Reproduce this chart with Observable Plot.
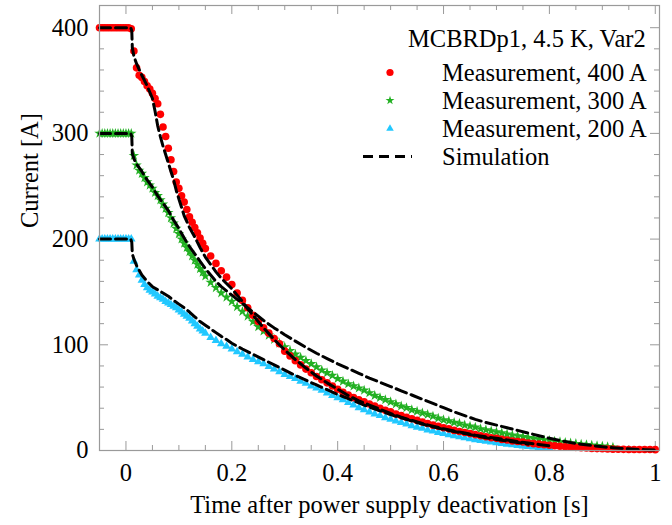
<!DOCTYPE html>
<html><head><meta charset="utf-8">
<script src="https://cdn.jsdelivr.net/npm/d3@7"></script>
<script src="https://cdn.jsdelivr.net/npm/@observablehq/plot@0.6"></script>
<style>
html,body{margin:0;padding:0;background:#fff;}
#wrap{position:relative;width:672px;height:525px;font-family:"Liberation Serif","Times New Roman",serif;}
#wrap svg.legend{position:absolute;left:0;top:0;pointer-events:none;}
</style></head><body><div id="wrap"></div>
<script>
// ---------- data ----------
const tMeas = [-0.05,-0.045,-0.04,-0.035,-0.03,-0.025,-0.02,-0.015,-0.01,-0.005,0,0.005,0.01,
 0.015,0.02,0.025,0.03,0.035,0.04,0.045,0.05,0.055,0.06,0.065,0.07,0.075,0.08,0.085,0.09,0.095,0.1,0.105,0.11,0.115,0.12,0.125,0.13,0.135,0.14,0.145,0.15,
 0.16,0.17,0.18,0.19,0.2,0.21,0.22,0.23,0.24,0.25,0.26,0.27,0.28,0.29,0.3,0.31,0.32,0.33,0.34,0.35,
 0.36,0.37,0.38,0.39,0.4,0.41,0.42,0.43,0.44,0.45,0.46,0.47,0.48,0.49,0.5,0.51,0.52,0.53,0.54,0.55,
 0.56,0.57,0.58,0.59,0.6,0.61,0.62,0.63,0.64,0.65,0.66,0.67,0.68,0.69,0.7,0.71,0.72,0.73,0.74,0.75,
 0.76,0.77,0.78,0.79,0.8,0.81,0.82,0.83,0.84,0.85,0.86,0.87,0.88,0.89,0.9,0.91,0.92,0.93,0.94,0.95,
 0.96,0.97,0.98,0.99,1.0];

const meas400 = [400,400,400,400,400,400,400,400,400,400,400,400,399,
 378,362,355,353,349,345,342,338,333,328,318,306,297,286,275,264,254,248,241,235,228,221,216,211,206,201,196,191,
 184,177,170,164,157,149,142,135,128,122,116,111,106,101,94,89.5,85,81,77,73.5,
 70,67,64,61,58,55,52.5,50,48,46,44,42,40,38,36.5,34.5,33,31.5,30,28.5,
 27,25.5,24,23,21.5,20.5,19,18,17,16,15,14,13,12,11.5,10.5,10,9,8.5,8,
 7,6.5,6,5.5,5,4.5,4,3.5,3.2,3,2.6,2.3,2,1.8,1.6,1.4,1.3,1.2,1.1,1,
 1,1,0.9,0.9,0.8];

const meas300 = [300,300,300,300,300,300,300,300,300,300,300,300,300,
 279,270,265,262,258,254,251,248,244,241,237,233,229,225,220,215,210,205,200,196,192,188,184,180,176,172,168.5,165,
 159,154,149,145,141,136,131.5,127,122,117,113,109,105,101.5,98,94.5,91,88,85,82,
 79,76,73.5,71,68,65.5,63,61,59,57,54.5,52,50,48,46,44,42,40.5,38.5,37,
 35.5,34,32.5,30.5,29,28,26.5,25.5,24,23,22,20.5,19.5,18.5,17.5,16.5,15.5,14.5,13.8,13,
 12,11.3,10.6,10,9.5,8.8,8.2,7.5,7,6.5,6,5.4,5,4.5,4,3.5,3];

const meas200 = [200,200,200,200,200,200,200,200,200,200,200,200,200,
 179,171,166,161,157,154,151.5,150,148,146,144.5,143,141,139.5,138,136.5,135,133,131,129,127,125,122.5,120,117.5,115,113,111,
 107,104,101,98.5,96,93.5,91,88.5,86,84,82,79.5,77,74.5,72,70,68,65.5,63.5,61,
 59,57,54.5,52,50,48,45.5,43,40.5,38.5,36.5,34.5,33,31,29.5,28,26.5,25,23.5,22,
 21,19.5,18.5,17,16,15,14,13,12,11,10.2,9.5,8.7,8,7.3,6.6,6,5.4,4.8,4.3,
 3.8,3.3,2.9,2.5,2.2];

const simT400 = [-0.05,0.009,0.011,0.012,0.015,0.02,0.03,0.04,0.05,0.055,0.06,0.065,0.07,0.075,0.08,0.085,0.09,0.095,0.1,
 0.11,0.12,0.13,0.14,0.15,0.16,0.17,0.18,0.19,0.2,0.21,0.22,0.23,0.24,0.26,0.28,0.3,0.32,0.34,0.36,0.38,0.4,
 0.42,0.44,0.46,0.48,0.5,0.52,0.54,0.56,0.58,0.6,0.62,0.64,0.66,0.68,0.7,0.72,0.74,0.76,0.78,0.8];
const sim400 = [400,400,397,381,373,366,355,345,333,321,307,297,288,280,272,264,256,246,238,
 222,211,202,192,183,176,169,163,158,153,147,141,134,128,116,105,95,86,78,70.5,64,58,
 52,47,43,39,35,31.5,28.5,25.5,23,20.5,18.5,16.5,14.5,13,11.5,10,8.5,7,5.7,4.5];

const simT300 = [-0.05,0.009,0.011,0.012,0.015,0.02,0.03,0.04,0.05,0.06,0.07,0.08,0.09,0.1,0.11,0.12,0.13,0.14,0.15,
 0.16,0.17,0.18,0.19,0.2,0.22,0.24,0.26,0.28,0.3,0.32,0.34,0.36,0.38,0.4,0.42,0.44,0.46,0.48,0.5,
 0.52,0.54,0.56,0.58,0.6,0.62,0.64,0.66,0.68,0.7,0.72,0.74,0.76,0.78,0.8,0.82,0.84,0.86,0.88,0.9,
 0.92,0.94,0.96,0.98,1.0];
const sim300 = [300,300,297,281,276,271,264,256,249,241,234,227,218,210,201,193,186,179,172,
 166,160,155,151,147,139,131,123,116,109.5,103.5,97.5,92,87,82,77.5,73,68.5,64.5,60.5,
 56.5,52.5,48.5,44.5,40.5,36.5,33,29.5,26.5,24,21.5,19,16.5,14,11.5,9.5,7.5,6,4.7,3.5,
 2.6,1.8,1.2,0.8,0.5];

const simT200 = [-0.05,0.009,0.011,0.012,0.015,0.02,0.03,0.04,0.05,0.06,0.07,0.08,0.09,0.1,0.11,0.12,0.13,0.14,0.15,
 0.16,0.17,0.18,0.19,0.2,0.22,0.24,0.26,0.28,0.3,0.32,0.34,0.36,0.38,0.4,0.42,0.44,0.46,0.48,0.5,
 0.52,0.54,0.56,0.58,0.6,0.62,0.64,0.66,0.68,0.7,0.72,0.74,0.76];
const sim200 = [200,200,197,186,181,175,166,160,155,152,149,146,142,138.5,135,131,126.5,122,118.5,
 115,111.5,108,105,101.5,96,91,86,81,76,71,66.5,62,57.5,53,49,45,41,37.5,34,
 31,28,25,22.5,20,18,16,14,12,10.5,9,7.5,6];

const xTickValues = [0,0.2,0.4,0.6,0.8,1];
const xTickLabels = ["0","0.2","0.4","0.6","0.8","1"];
const xMinorTicks = [0.05,0.1,0.15,0.25,0.3,0.35,0.45,0.5,0.55,0.65,0.7,0.75,0.85,0.9,0.95];
const yTickValues = [0,100,200,300,400];
const yTickLabels = ["0","100","200","300","400"];
const yMinorTicks = [20,40,60,80,120,140,160,180,220,240,260,280,320,340,360,380];

const legendTitle = "MCBRDp1, 4.5 K, Var2";
const seriesLabels = ["Measurement, 400 A","Measurement, 300 A","Measurement, 200 A","Simulation"];
const xLabel = "Time after power supply deactivation [s]";
const yLabel = "Current [A]";

// ---------- styles ----------
const RED = "#ff0000", GREEN = "#22b022", CYAN = "#22c8ff";
const width = 672, height = 525, mL = 99, mR = 13, mT = 5, mB = 75;
const plotW = width - mL - mR, plotH = height - mT - mB;
const majorLen = 9, minorLen = 5, tickColor = "#9a9a9a";
const dash = "11,5";
const rRed = 3.8, rGreen = 3.3, rCyan = 3.2;
const FONT = '"Liberation Serif","Times New Roman",serif';

const rows = (ts, vs) => vs.map((v, i) => ({t: ts[i], I: v}));
const d400 = rows(tMeas, meas400), d300 = rows(tMeas, meas300), d200 = rows(tMeas, meas200);
const s400 = rows(simT400, sim400), s300 = rows(simT300, sim300), s200 = rows(simT200, sim200);
const xTicks = xTickValues.map((v, i) => ({v, label: xTickLabels[i]}));
const yTicks = yTickValues.map((v, i) => ({v, label: yTickLabels[i]}));

const chart = Plot.plot({
  width, height, marginLeft: mL, marginRight: mR, marginTop: mT, marginBottom: mB,
  x: {domain: [-0.05, 1.008], axis: null},
  y: {domain: [0, 421], axis: null},
  style: {fontFamily: FONT, fontSize: "24.5px", color: "#000", background: "#fff", overflow: "visible"},
  marks: [
    Plot.tickX(xTickValues, {x: d => d, insetTop: plotH - majorLen, stroke: tickColor}),
    Plot.tickX(xTickValues, {x: d => d, insetBottom: plotH - majorLen, stroke: tickColor}),
    Plot.tickX(xMinorTicks, {x: d => d, insetTop: plotH - minorLen, stroke: tickColor}),
    Plot.tickX(xMinorTicks, {x: d => d, insetBottom: plotH - minorLen, stroke: tickColor}),
    Plot.tickY(yTickValues, {y: d => d, insetRight: plotW - majorLen, stroke: tickColor}),
    Plot.tickY(yTickValues, {y: d => d, insetLeft: plotW - majorLen, stroke: tickColor}),
    Plot.tickY(yMinorTicks, {y: d => d, insetRight: plotW - minorLen, stroke: tickColor}),
    Plot.tickY(yMinorTicks, {y: d => d, insetLeft: plotW - minorLen, stroke: tickColor}),
    Plot.text(xTicks, {x: "v", text: "label", frameAnchor: "bottom", dy: 23, lineAnchor: "middle", fontSize: 24.5, fill: "#000"}),
    Plot.text(yTicks, {y: "v", text: "label", frameAnchor: "left", dx: -11, textAnchor: "end", lineAnchor: "middle", fontSize: 24.5, fill: "#000"}),
    Plot.text([xLabel], {text: d => d, frameAnchor: "bottom", dy: 55, dx: 10, lineAnchor: "middle", fontSize: 24.5, fill: "#000"}),
    Plot.text([yLabel], {text: d => d, frameAnchor: "left", dx: -69, rotate: -90, lineAnchor: "middle", fontSize: 24.5, fill: "#000"}),
    Plot.dot(d200, {x: "t", y: "I", symbol: "triangle", fill: CYAN, r: rCyan}),
    Plot.dot(d300, {x: "t", y: "I", symbol: "star", fill: GREEN, r: rGreen}),
    Plot.dot(d400, {x: "t", y: "I", symbol: "circle", fill: RED, r: rRed}),
    Plot.line(s200, {x: "t", y: "I", stroke: "#000", strokeWidth: 3, strokeDasharray: dash}),
    Plot.line(s300, {x: "t", y: "I", stroke: "#000", strokeWidth: 3, strokeDasharray: dash}),
    Plot.line(s400, {x: "t", y: "I", stroke: "#000", strokeWidth: 3, strokeDasharray: dash}),
    Plot.frame({stroke: tickColor, strokeWidth: 1.2})
  ]
});
const wrap = document.getElementById("wrap");
wrap.appendChild(chart);

// ---------- legend ----------
const lg = d3.select(wrap).append("svg").attr("class", "legend").attr("width", width).attr("height", height)
  .style("font-family", FONT).style("font-size", "24.5px");
lg.append("text").attr("x", 408).attr("y", 38).attr("dominant-baseline", "central").text(legendTitle);
const symbols = [
  {type: d3.symbolCircle, r: 3.6, color: RED},
  {type: d3.symbolStar, r: 2.8, color: GREEN},
  {type: d3.symbolTriangle, r: 2.8, color: CYAN},
  null
];
seriesLabels.forEach((lab, i) => {
  const y = 72.5 + 28 * i;
  lg.append("text").attr("x", 442).attr("y", y).attr("dominant-baseline", "central").text(lab);
  const s = symbols[i];
  if (s) {
    lg.append("path").attr("transform", `translate(390,${y})`)
      .attr("d", d3.symbol(s.type, Math.PI * s.r * s.r)()).attr("fill", s.color);
  } else {
    lg.append("line").attr("x1", 363).attr("x2", 412).attr("y1", y).attr("y2", y)
      .attr("stroke", "#000").attr("stroke-width", 3).attr("stroke-dasharray", "10,6");
  }
});
</script></body></html>
